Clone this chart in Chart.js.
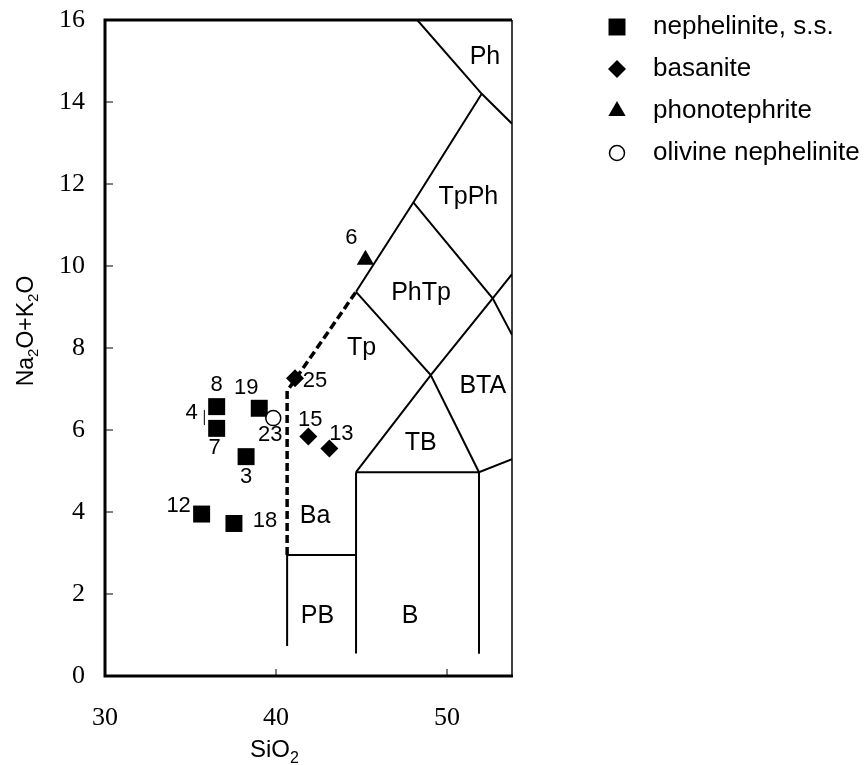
<!DOCTYPE html>
<html>
<head>
<meta charset="utf-8">
<script src="https://cdn.jsdelivr.net/npm/chart.js@4.4.1/dist/chart.umd.min.js"></script>
<style>
  html, body { margin: 0; padding: 0; background: #fff; }
  canvas { display: block; }
</style>
</head>
<body>
<canvas id="tas" width="864" height="765"></canvas>
<script>
// samples: SiO2 vs Na2O+K2O (wt%)
const nephIds = ["8", "7", "19", "3", "12", "18"];
const nephSiO2 = [36.53, 36.53, 39.02, 38.25, 35.65, 37.54];
const nephAlk = [6.57, 6.04, 6.53, 5.35, 3.95, 3.72];

const basIds = ["25", "15", "13"];
const basSiO2 = [41.11, 41.89, 43.12];
const basAlk = [7.26, 5.84, 5.55];

const phonoIds = ["6"];
const phonoSiO2 = [45.23];
const phonoAlk = [10.15];

const olNephIds = ["23"];
const olNephSiO2 = [39.84];
const olNephAlk = [6.29];

// TAS field boundaries
const foiditeEdge = [[44.68, 9.37], [48.03, 11.55], [52.03, 14.2]];
const phonoliteEdge = [[48.26, 16], [52.03, 14.2], [53.8, 13.47]];
const tephriphonoliteEdge = [[48.03, 11.55], [52.67, 9.21], [53.8, 8.32]];
const phonotephriteEdge = [[44.68, 9.37], [49.05, 7.34], [51.87, 4.97]];
const trachyandesiteEdge = [[44.68, 4.97], [49.05, 7.34], [52.67, 9.21], [53.8, 9.8]];
const basaltTop = [[44.68, 4.97], [51.87, 4.97], [53.8, 5.29]];
const basaltLeft = [[44.68, 4.97], [44.68, 0.55]];
const basaltRight = [[51.87, 4.97], [51.87, 0.54]];
const picrobasaltEdge = [[40.65, 0.73], [40.65, 2.95], [44.68, 2.95]];
const basaniteEdge = [[40.65, 2.95], [40.65, 6.95], [44.68, 9.37]];

const regionNames = ["Ph", "TpPh", "PhTp", "Tp", "BTA", "TB", "Ba", "PB", "B"];
const regionSiO2 = [52.22, 51.25, 48.48, 45.01, 52.09, 48.46, 42.28, 42.42, 47.84];
const regionAlk = [15.1, 11.69, 9.35, 7.99, 7.07, 5.69, 3.89, 1.45, 1.45];

const xTicks = [30, 40, 50];
const yTicks = [0, 2, 4, 6, 8, 10, 12, 14, 16];

// label offsets in px from the marker centre
const labelOffset = {
  "8": [0, -22], "7": [-2, 20], "19": [-13, -20], "3": [0, 20],
  "12": [-23, -8], "18": [31, -3], "25": [20, 3], "15": [2, -17],
  "13": [12, -15], "6": [-14, -22], "23": [-3, 17],
};

const SANS = "'Liberation Sans', Arial, sans-serif";
const SERIF = "'Liberation Serif', 'Times New Roman', serif";

function pts(xs, ys) {
  return xs.map((x, i) => ({ x: x, y: ys[i] }));
}

function edge(points, dashed) {
  return {
    data: points.map((p) => ({ x: p[0], y: p[1] })),
    showLine: true,
    pointRadius: 0,
    borderColor: "#000",
    borderWidth: dashed ? 3.5 : 2,
    borderDash: dashed ? [8, 4] : [],
    tension: 0,
  };
}

const datasets = [
  {
    label: "olivine nephelinite",
    ids: olNephIds,
    data: pts(olNephSiO2, olNephAlk),
    pointStyle: "circle",
    pointRadius: 7.5,
    backgroundColor: "#fff",
    borderColor: "#000",
    borderWidth: 1.5,
  },
  {
    label: "phonotephrite",
    ids: phonoIds,
    data: pts(phonoSiO2, phonoAlk),
    pointStyle: "triangle",
    pointRadius: 10,
    backgroundColor: "#000",
    borderColor: "#000",
    borderWidth: 0,
  },
  {
    label: "basanite",
    ids: basIds,
    data: pts(basSiO2, basAlk),
    pointStyle: "rectRot",
    pointRadius: 9,
    backgroundColor: "#000",
    borderColor: "#000",
    borderWidth: 0,
  },
  {
    label: "nephelinite, s.s.",
    ids: nephIds,
    data: pts(nephSiO2, nephAlk),
    pointStyle: "rect",
    pointRadius: 12,
    backgroundColor: "#000",
    borderColor: "#000",
    borderWidth: 0,
  },
  edge(foiditeEdge),
  edge(phonoliteEdge),
  edge(tephriphonoliteEdge),
  edge(phonotephriteEdge),
  edge(trachyandesiteEdge),
  edge(basaltTop),
  edge(basaltLeft),
  edge(basaltRight),
  edge(picrobasaltEdge),
  edge(basaniteEdge, true),
];

const legendOrder = ["nephelinite, s.s.", "basanite", "phonotephrite", "olivine nephelinite"];

const tasDecor = {
  id: "tasDecor",
  afterDraw(chart) {
    const ctx = chart.ctx;
    const area = chart.chartArea;
    const xs = chart.scales.x;
    const ys = chart.scales.y;
    ctx.save();
    ctx.fillStyle = "#000";
    ctx.strokeStyle = "#000";

    // field names
    ctx.font = "25px " + SANS;
    ctx.textAlign = "center";
    ctx.textBaseline = "middle";
    regionNames.forEach((name, i) => {
      ctx.fillText(name, xs.getPixelForValue(regionSiO2[i]), ys.getPixelForValue(regionAlk[i]));
    });

    // sample numbers
    ctx.font = "22px " + SANS;
    chart.data.datasets.forEach((ds, di) => {
      if (!ds.ids) return;
      const meta = chart.getDatasetMeta(di);
      ds.ids.forEach((id, i) => {
        const el = meta.data[i];
        const off = labelOffset[id] || [0, -20];
        ctx.fillText(id, el.x + off[0], el.y + off[1]);
      });
    });
    // sample 4 sits under 8/7, marked with a bar
    ctx.fillText("4", xs.getPixelForValue(35.07), ys.getPixelForValue(6.41));
    ctx.lineWidth = 1;
    ctx.beginPath();
    ctx.moveTo(xs.getPixelForValue(35.81), ys.getPixelForValue(6.49));
    ctx.lineTo(xs.getPixelForValue(35.81), ys.getPixelForValue(6.12));
    ctx.stroke();

    // inward ticks
    ctx.lineWidth = 1;
    ctx.beginPath();
    xTicks.forEach((v) => {
      const px = xs.getPixelForValue(v);
      ctx.moveTo(px, area.bottom);
      ctx.lineTo(px, area.bottom - 7);
    });
    yTicks.forEach((v) => {
      const py = ys.getPixelForValue(v);
      ctx.moveTo(area.left, py);
      ctx.lineTo(area.left + 8, py);
    });
    ctx.stroke();

    // frame
    ctx.lineWidth = 3;
    ctx.beginPath();
    ctx.moveTo(area.right, area.top);
    ctx.lineTo(area.left, area.top);
    ctx.lineTo(area.left, area.bottom);
    ctx.lineTo(area.right + 1, area.bottom);
    ctx.stroke();
    ctx.lineWidth = 1.5;
    ctx.beginPath();
    ctx.moveTo(area.right, area.top);
    ctx.lineTo(area.right, area.bottom);
    ctx.stroke();

    // axis titles with subscripts
    ctx.textAlign = "left";
    ctx.textBaseline = "alphabetic";
    let x = 250;
    const by = 757;
    ctx.font = "24px " + SANS;
    ctx.fillText("SiO", x, by);
    x += ctx.measureText("SiO").width;
    ctx.font = "16px " + SANS;
    ctx.fillText("2", x, by + 6);

    ctx.save();
    ctx.translate(33, 331);
    ctx.rotate(-Math.PI / 2);
    const parts = [["Na", 0], ["2", 1], ["O+K", 0], ["2", 1], ["O", 0]];
    let w = 0;
    parts.forEach((p) => {
      ctx.font = (p[1] ? "15px " : "23px ") + SANS;
      w += ctx.measureText(p[0]).width;
    });
    let tx = -w / 2;
    parts.forEach((p) => {
      ctx.font = (p[1] ? "15px " : "23px ") + SANS;
      ctx.fillText(p[0], tx, p[1] ? 5 : 0);
      tx += ctx.measureText(p[0]).width;
    });
    ctx.restore();

    // legend
    legendOrder.forEach((name, i) => {
      const ds = chart.data.datasets.find((d) => d.label === name);
      const ly = 27 + 42 * i;
      ctx.fillStyle = ds.backgroundColor;
      ctx.strokeStyle = ds.borderColor;
      ctx.lineWidth = ds.borderWidth;
      Chart.helpers.drawPoint(
        ctx,
        { pointStyle: ds.pointStyle, radius: ds.pointRadius, rotation: 0, borderWidth: ds.borderWidth },
        617,
        ly
      );
      ctx.fillStyle = "#000";
      ctx.font = "26px " + SANS;
      ctx.textBaseline = "middle";
      ctx.fillText(name, 653, ly);
    });
    ctx.restore();
  },
};

new Chart(document.getElementById("tas"), {
  type: "scatter",
  data: { datasets: datasets },
  options: {
    responsive: false,
    animation: false,
    events: [],
    layout: { padding: { left: 0, top: 20, right: 352, bottom: 0 } },
    plugins: {
      legend: { display: false },
      tooltip: { enabled: false },
    },
    scales: {
      x: {
        type: "linear",
        min: 30,
        max: 53.8,
        grid: { display: false, drawTicks: false },
        border: { display: false },
        afterBuildTicks: (scale) => {
          scale.ticks = xTicks.map((v) => ({ value: v }));
        },
        afterFit: (scale) => {
          scale.height = 89;
          scale.paddingLeft = 0;
          scale.paddingRight = 0;
        },
        ticks: {
          color: "#000",
          padding: 27,
          maxRotation: 0,
          font: { family: SERIF, size: 26 },
        },
      },
      y: {
        type: "linear",
        min: 0,
        max: 16,
        grid: { display: false, drawTicks: false },
        border: { display: false },
        afterBuildTicks: (scale) => {
          scale.ticks = yTicks.map((v) => ({ value: v }));
        },
        afterFit: (scale) => {
          scale.width = 105;
          scale.paddingTop = 0;
          scale.paddingBottom = 0;
        },
        ticks: {
          color: "#000",
          padding: 20,
          font: { family: SERIF, size: 26 },
        },
      },
    },
  },
  plugins: [tasDecor],
});
</script>
</body>
</html>
